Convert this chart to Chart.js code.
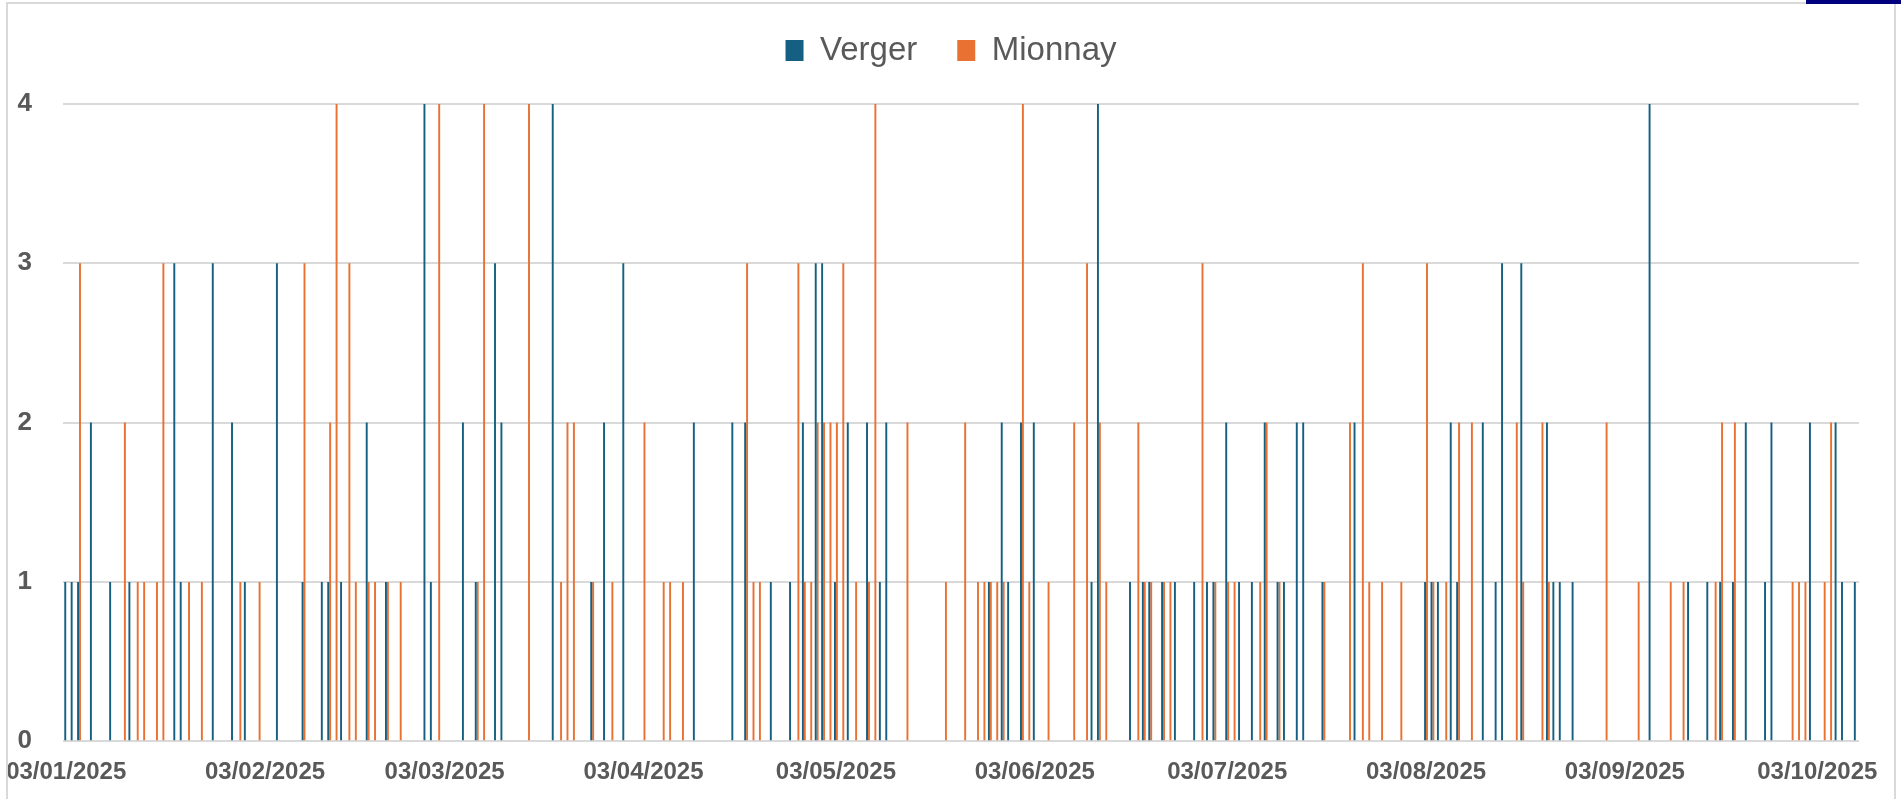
<!DOCTYPE html>
<html>
<head>
<meta charset="utf-8">
<title>Verger / Mionnay</title>
<script src="https://cdn.jsdelivr.net/npm/chart.js@4.4.1/dist/chart.umd.min.js"></script>
<style>
  html, body { margin: 0; padding: 0; background: #ffffff; overflow: hidden; }
  #frame {
    position: absolute; left: 6px; top: 2px;
    width: 1886px; height: 810px;
    border: 2px solid #d9d9d9; background: #ffffff;
  }
  #corner { position: absolute; left: 1806px; top: 0; width: 95px; height: 4px; background: #00007f; }
</style>
</head>
<body>
<div id="frame"><canvas id="chart"></canvas></div>
<div id="corner"></div>
<script>
// daily series, one value per day starting 03/01/2025 (280 days, to 09/10/2025)
const startDate = new Date(2025, 0, 3);
const dayCount = 280;

const vergerValues = [
  1,1,1,0,2,0,0,1,0,0,1,0,0,0,0,0,0,3,1,0,
  0,0,0,3,0,0,2,0,1,0,0,0,0,3,0,0,0,1,0,0,
  1,1,0,1,0,0,0,2,0,0,1,0,0,0,0,0,4,1,0,0,
  0,0,2,0,1,0,0,3,2,0,0,0,0,0,0,0,4,0,0,0,
  0,0,1,0,2,0,0,3,0,0,0,0,0,0,0,0,0,0,2,0,
  0,0,0,0,2,0,2,0,0,0,1,0,0,1,0,2,0,3,3,0,
  1,0,2,0,0,2,0,1,2,0,0,0,0,0,0,0,0,0,0,0,
  0,0,0,0,1,0,2,1,0,2,0,2,0,0,0,0,0,0,0,0,
  1,4,0,0,0,0,1,0,1,1,0,1,0,1,0,0,1,0,1,1,
  0,2,0,1,0,1,0,2,0,1,1,0,2,2,0,0,1,0,0,0,
  0,2,0,0,0,0,0,0,0,0,0,0,1,1,1,0,2,1,0,0,
  0,2,0,1,3,0,0,3,0,0,0,2,1,1,0,1,0,0,0,0,
  0,0,0,0,0,0,0,4,0,0,0,0,0,1,0,0,1,0,1,0,
  1,0,2,0,0,1,2,0,0,0,0,0,2,0,0,0,2,1,0,1
];

const mionnayValues = [
  0,0,3,0,0,0,0,0,0,2,0,1,1,0,1,3,0,0,0,1,
  0,1,0,0,0,0,0,1,0,0,1,0,0,0,0,0,0,3,0,0,
  0,2,4,0,3,1,0,1,1,0,1,0,1,0,0,0,0,0,4,0,
  0,0,0,0,1,4,0,0,0,0,0,0,4,0,0,0,0,1,2,2,
  0,0,1,0,0,1,0,0,0,0,2,0,0,1,1,0,1,0,0,0,
  0,0,0,0,0,0,3,1,1,0,0,0,0,0,3,1,1,2,2,2,
  2,3,0,1,0,1,4,0,0,0,0,2,0,0,0,0,0,1,0,0,
  2,0,1,1,1,1,1,0,0,4,1,0,0,1,0,0,0,2,0,3,
  0,2,1,0,0,0,0,2,1,1,0,1,1,0,0,0,0,3,0,1,
  0,1,1,0,0,0,1,2,0,1,0,0,0,0,0,0,1,0,0,0,
  2,0,3,1,0,1,0,0,1,0,0,0,3,1,0,1,0,2,0,2,
  0,0,0,0,0,0,2,1,0,0,2,1,0,0,0,0,0,0,0,0,
  2,0,0,0,0,1,0,0,0,0,1,0,1,0,0,0,0,1,2,0,
  2,0,0,0,0,0,0,0,0,1,1,1,0,0,1,2,0,0,0,0
];

const seriesNames = ["Verger", "Mionnay"];
const yTicks = [0, 1, 2, 3, 4];

// dd/mm/yyyy labels for each day
const dayLabels = [];
for (let i = 0; i < dayCount; i++) {
  const d = new Date(startDate.getFullYear(), startDate.getMonth(), startDate.getDate() + i);
  const dd = String(d.getDate()).padStart(2, "0");
  const mm = String(d.getMonth() + 1).padStart(2, "0");
  dayLabels.push(dd + "/" + mm + "/" + d.getFullYear());
}

const blue = "#156082";
const orange = "#e97132";
const textGrey = "#595959";
const rightGap = 35;

// legend: leave room under it, and recentre it on the whole canvas
const legendSpacer = {
  id: "legendSpacer",
  beforeInit(chart) {
    const origFit = chart.legend.fit;
    chart.legend.fit = function () {
      origFit.bind(chart.legend)();
      this.height += 27;
      if (this.lineWidths && this.lineWidths.length) {
        this.lineWidths[0] -= rightGap;
      }
    };
  }
};

const chart = new Chart(document.getElementById("chart").getContext("2d"), {
  type: "bar",
  data: {
    labels: dayLabels,
    datasets: [
      { label: seriesNames[0], data: vergerValues, backgroundColor: blue, borderWidth: 0 },
      { label: seriesNames[1], data: mionnayValues, backgroundColor: orange, borderWidth: 0 }
    ]
  },
  options: {
    responsive: true,
    maintainAspectRatio: false,
    animation: false,
    categoryPercentage: 0.6,
    barPercentage: 1.0,
    layout: { padding: { left: 0, right: rightGap, top: -10, bottom: 10 } },
    plugins: {
      legend: {
        position: "top",
        align: "center",
        labels: {
          boxWidth: 18,
          boxHeight: 21,
          padding: 40,
          color: textGrey,
          font: { family: "'Liberation Sans', Arial, sans-serif", size: 33 }
        }
      },
      tooltip: { enabled: false }
    },
    scales: {
      x: {
        grid: { display: false, drawTicks: false },
        border: { display: false },
        afterFit: (scale) => { scale.paddingLeft = 0; scale.paddingRight = 0; },
        ticks: {
          autoSkip: false,
          maxRotation: 0,
          minRotation: 0,
          padding: 17,
          color: textGrey,
          font: { family: "'Liberation Sans', Arial, sans-serif", size: 24, weight: "bold" },
          callback: function (value) {
            const lab = this.getLabelForValue(value);
            return lab.slice(0, 2) === "03" ? lab : "";
          }
        }
      },
      y: {
        min: yTicks[0],
        max: yTicks[yTicks.length - 1],
        afterFit: (scale) => { scale.width = 55; },
        afterBuildTicks: (scale) => { scale.ticks = yTicks.map((v) => ({ value: v })); },
        grid: { color: "#d9d9d9", lineWidth: 2, drawTicks: false },
        border: { display: false },
        ticks: {
          padding: 31,
          color: textGrey,
          font: { family: "'Liberation Sans', Arial, sans-serif", size: 26, weight: "bold" }
        }
      }
    }
  },
  plugins: [legendSpacer]
});
</script>
</body>
</html>
